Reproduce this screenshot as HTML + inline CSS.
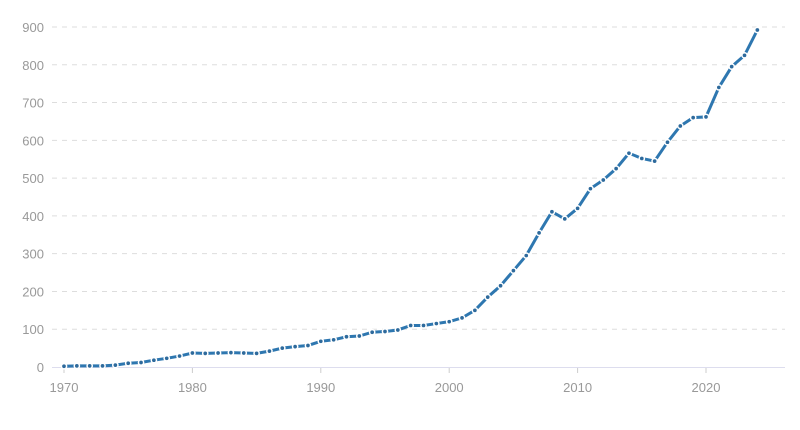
<!DOCTYPE html>
<html><head><meta charset="utf-8"><style>body{margin:0;background:#fff}svg{display:block}text{font-family:"Liberation Sans",sans-serif;fill:#999;font-size:13px}</style></head>
<body>
<svg id="s" width="800" height="430" xmlns="http://www.w3.org/2000/svg"></svg>
<script>
const s=document.getElementById('s');
const vals=[2,3,3,3,5,10,12,18,23,29,37,36,37,38,37,36,42,50,54,57,68,72,80,82,92,94,98,110,110,115,120,130,150,185,215,255,295,355,411,392,420,472,495,525,566,552,545,595,638,660,662,740,795,825,892];
const X=y=>64+(y-1970)*12.84, Y=v=>367-v*0.3778;
let h='';
for(let v=100;v<=900;v+=100){h+=`<line x1="52" x2="785" y1="${Y(v)}" y2="${Y(v)}" stroke="#ddd" stroke-dasharray="5,5"/>`;}
for(let v=0;v<=900;v+=100){h+=`<text x="44" y="${Y(v)+5}" text-anchor="end">${v}</text>`;}
h+=`<line x1="52" x2="785" y1="367.5" y2="367.5" stroke="#dde"/>`;
for(let y=1970;y<=2020;y+=10){h+=`<line x1="${X(y)}" x2="${X(y)}" y1="368" y2="373" stroke="#ccc"/><text x="${X(y)}" y="392" text-anchor="middle">${y}</text>`;}
h+=`<polyline fill="none" stroke="#2e77b0" stroke-width="3" points="${vals.map((v,i)=>X(1970+i)+','+Y(v)).join(' ')}"/>`;
vals.forEach((v,i)=>{h+=`<circle cx="${X(1970+i)}" cy="${Y(v)}" r="2.6" fill="#2e6a9c" stroke="#fff" stroke-width="1.5"/>`;});
s.innerHTML=h;
</script>
</body></html>
